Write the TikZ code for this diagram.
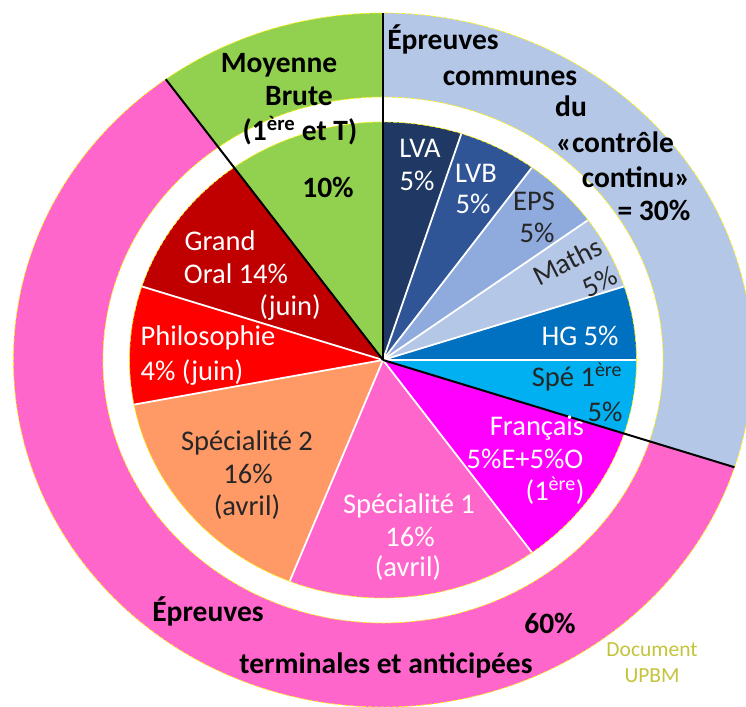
\documentclass[tikz,border=0pt]{standalone}
\usepackage{fontspec}
\setmainfont{Carlito}
\usepackage{xcolor}
\definecolor{lvacol}{RGB}{32,56,100}
\definecolor{lvbcol}{RGB}{47,85,151}
\definecolor{epscol}{RGB}{143,170,220}
\definecolor{mathscol}{RGB}{180,199,231}
\definecolor{hgcol}{RGB}{0,112,192}
\definecolor{spepremcol}{RGB}{0,176,240}
\definecolor{frcol}{RGB}{255,0,255}
\definecolor{pinkcol}{RGB}{255,102,204}
\definecolor{spetwocol}{RGB}{255,153,102}
\definecolor{philocol}{RGB}{255,0,0}
\definecolor{oralcol}{RGB}{192,0,0}
\definecolor{moycol}{RGB}{146,208,80}
\definecolor{doccol}{RGB}{196,196,60}
\colorlet{ringblue}{mathscol}
\colorlet{ringpink}{pinkcol}
\newcommand\rIn{238}  % inner pie
\newcommand\rMid{263} % inner edge of the ring
\newcommand\rOut{347} % outer edge of the ring
\tikzset{
  label in/.style={font=\fontsize{28.5}{33}\selectfont, inner sep=0, anchor=base, text=white},
  label dark/.style={label in, text=black!85},
  label out/.style={font=\fontsize{29.5}{34}\selectfont\bfseries, inner sep=0, anchor=base, text=black},
  doc label/.style={font=\fontsize{21.5}{26}\selectfont, inner sep=0, anchor=base, text=doccol},
  split white/.style={white, line width=1.8},
  split black/.style={black, line width=2},
  border line/.style={yellow, line width=0.7, dash pattern=on 4 off 2},
}

\begin{document}
\begin{tikzpicture}[x=1pt, y=-1pt]
    \useasboundingbox (0,0) rectangle (746,706);
    \clip (0,0) rectangle (746,706);
    \fill[white] (0,0) rectangle (746,706);

    % ------- rings -------
    \begin{scope}[shift={(383,360)}, xscale=1.065, yscale=-1]
        \foreach \a/\b/\c in {90/-18/ringblue, -18/-234/ringpink, -234/-270/moycol} {
            \fill[\c] (\a:\rOut) arc[start angle=\a, end angle=\b, radius=\rOut]
                -- (\b:\rMid) arc[start angle=\b, end angle=\a, radius=\rMid] -- cycle;
        }
        \foreach \a/\b/\c in {90/72/lvacol, 72/54/lvbcol, 54/36/epscol, 36/18/mathscol,
                18/0/hgcol, 0/-18/spepremcol, -18/-54/frcol, -54/-111.6/pinkcol,
                -111.6/-169.2/spetwocol, -169.2/-198/philocol, -198/-234/oralcol, -234/-270/moycol} {
            \fill[\c] (0,0) -- (\a:\rIn) arc[start angle=\a, end angle=\b, radius=\rIn] -- cycle;
        }
        \foreach \a in {72,54,36,18,0,-54,-111.6,-169.2,-198}
            \draw[split white] (0,0) -- (\a:\rIn);
        \foreach \r in {\rIn,\rMid,\rOut}
            \draw[border line] (0,0) circle[radius=\r];
        \foreach \a in {90,126,-18}
            \draw[split black] (0,0) -- (\a:\rOut);
    \end{scope}

    % ------- outer labels -------
    \node[label out] (moy-1) at (279,73)  {Moyenne};
    \node[label out] (moy-2) at (299,106) {Brute};
    \node[label out] (moy-3) at (300,140) {(1\textsuperscript{ère} et T)};
    \node[label out] (moy-4) at (328,197) {10\%};

    \node[label out] (cc-1) at (443,50)  {Épreuves};
    \node[label out] (cc-2) at (510,86)  {communes};
    \node[label out] (cc-3) at (571,117) {du};
    \node[label out] (cc-4) at (615,152) {«contrôle};
    \node[label out] (cc-5) at (636,187) {continu»};
    \node[label out] (cc-6) at (654,220) {= 30\%};

    \node[label out] (term-1) at (208,621) {Épreuves};
    \node[label out] (term-2) at (386,673) {terminales et anticipées};
    \node[label out] (term-3) at (550,633) {60\%};

    % ------- inner labels -------
    \node[label in] (lva-1) at (420,157) {LVA};
    \node[label in] (lva-2) at (417,190) {5\%};
    \node[label in] (lvb-1) at (476,182) {LVB};
    \node[label in] (lvb-2) at (473,213) {5\%};
    \node[label dark] (eps-1) at (534,210) {EPS};
    \node[label dark] (eps-2) at (537,242) {5\%};
    \node[label dark, rotate=27, anchor=center, align=right] (maths) at (575,276) {Maths\\5\%};
    \node[label in] (hg) at (580,345) {HG 5\%};
    \node[label dark] (spe-prem-1) at (577,386) {Spé 1\textsuperscript{ère}};
    \node[label dark] (spe-prem-2) at (605,421) {5\%};
    \node[label in] (fr-1) at (537,435) {Français};
    \node[label in] (fr-2) at (525,468) {5\%E+5\%O};
    \node[label in] (fr-3) at (555,500) {(1\textsuperscript{ère})};
    \node[label in] (spe1-1) at (409,513) {Spécialité 1};
    \node[label in] (spe1-2) at (410,546) {16\%};
    \node[label in] (spe1-3) at (408,576) {(avril)};
    \node[label dark] (spe2-1) at (247,450) {Spécialité 2};
    \node[label dark] (spe2-2) at (248,483) {16\%};
    \node[label dark] (spe2-3) at (247,515) {(avril)};
    \node[label in] (philo-1) at (208,345) {Philosophie};
    \node[label in] (philo-2) at (192,380) {4\% (juin)};
    \node[label in] (oral-1) at (220,250) {Grand};
    \node[label in] (oral-2) at (236,283) {Oral 14\%};
    \node[label in] (oral-3) at (290,315) {(juin)};

    % ------- source -------
    \node[doc label] (doc-1) at (652,656) {Document};
    \node[doc label] (doc-2) at (652,682) {UPBM};
\end{tikzpicture}
\end{document}
